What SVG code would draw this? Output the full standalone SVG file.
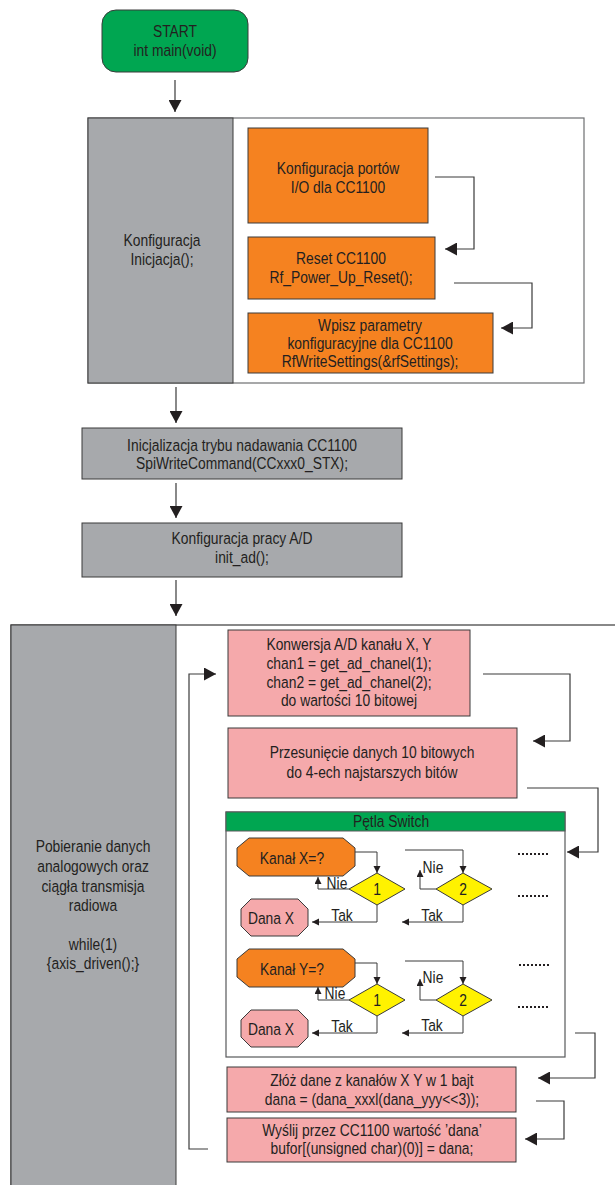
<svg xmlns="http://www.w3.org/2000/svg" width="615" height="1185" viewBox="0 0 615 1185">
<defs>
<marker id="big" markerUnits="userSpaceOnUse" markerWidth="13" markerHeight="13" refX="12" refY="6.5" orient="auto"><path d="M0,0 L12,6.5 L0,13 z" fill="#231f20"/></marker>
<marker id="sm" markerUnits="userSpaceOnUse" markerWidth="7" markerHeight="8" refX="7" refY="3.5" orient="auto"><path d="M0,0 L7,3.5 L0,7 z" fill="#231f20"/></marker>
<style>
text{font-family:"Liberation Sans",Arial,sans-serif;font-size:16.5px;fill:#231f20;text-anchor:middle}
.green{fill:#00a651;stroke:#3a3a3a;stroke-width:1}
.orange{fill:#f58220;stroke:#3a3a3a;stroke-width:1}
.pink{fill:#f5a9ab;stroke:#3a3a3a;stroke-width:1}
.gray{fill:#a7a9ac;stroke:#3a3a3a;stroke-width:1}
.white{fill:#ffffff;stroke:#6d6e71;stroke-width:1.2}
.yellow{fill:#fff200;stroke:#3a3a3a;stroke-width:1}
.ca{fill:none;stroke:#3a3a3a;stroke-width:1.2;marker-end:url(#big)}
.cs{fill:none;stroke:#3a3a3a;stroke-width:1;marker-end:url(#sm)}
.dots{stroke:#231f20;stroke-width:2;stroke-dasharray:2,2}
</style>
</defs>
<rect width="615" height="1185" fill="#ffffff"/>

<g id="start">
<rect class="green" x="102" y="10" width="146" height="62" rx="14"/>
<text transform="translate(175,37) scale(0.84,1)">START</text>
<text transform="translate(175,56) scale(0.84,1)">int main(void)</text>
</g>

<g id="config">
<rect class="white" x="88" y="118" width="496" height="265"/>
<rect class="gray" x="88" y="118" width="145" height="265"/>
<text transform="translate(162,246) scale(0.84,1)">Konfiguracja</text>
<text transform="translate(162,265) scale(0.84,1)">Inicjacja();</text>
</g>
<g id="cfg-ports">
<rect class="orange" x="248" y="128" width="180" height="95"/>
<text transform="translate(338,174) scale(0.84,1)">Konfiguracja portów</text>
<text transform="translate(338,193) scale(0.84,1)">I/O dla CC1100</text>
</g>
<g id="cfg-reset">
<rect class="orange" x="248" y="237" width="187" height="62"/>
<text transform="translate(341,264) scale(0.84,1)">Reset CC1100</text>
<text transform="translate(341,283) scale(0.84,1)">Rf_Power_Up_Reset();</text>
</g>
<g id="cfg-write">
<rect class="orange" x="248" y="313" width="245" height="60"/>
<text transform="translate(370,331) scale(0.84,1)">Wpisz parametry</text>
<text transform="translate(370,349) scale(0.84,1)">konfiguracyjne dla CC1100</text>
<text transform="translate(370,367) scale(0.84,1)">RfWriteSettings(&amp;rfSettings);</text>
</g>

<g id="stx">
<rect class="gray" x="82" y="428" width="320" height="51"/>
<text transform="translate(242,451) scale(0.84,1)">Inicjalizacja trybu nadawania CC1100</text>
<text transform="translate(242,469) scale(0.84,1)">SpiWriteCommand(CCxxx0_STX);</text>
</g>

<g id="adc">
<rect class="gray" x="82" y="523" width="320" height="54"/>
<text transform="translate(242,544) scale(0.84,1)">Konfiguracja pracy A/D</text>
<text transform="translate(242,563) scale(0.84,1)">init_ad();</text>
</g>

<g id="loop">
<rect class="white" x="11" y="625" width="620" height="580" style="stroke:#3a3a3a"/>
<rect class="gray" x="11" y="625" width="165" height="580"/>
<text transform="translate(93,852) scale(0.84,1)">Pobieranie danych</text>
<text transform="translate(93,872) scale(0.84,1)">analogowych oraz</text>
<text transform="translate(93,892) scale(0.84,1)">ciągła transmisja</text>
<text transform="translate(93,911) scale(0.84,1)">radiowa</text>
<text transform="translate(93,950) scale(0.84,1)">while(1)</text>
<text transform="translate(93,969) scale(0.84,1)">{axis_driven();}</text>
</g>

<g id="conv">
<rect class="pink" x="228" y="630" width="242" height="86"/>
<text transform="translate(349,650) scale(0.84,1)">Konwersja A/D kanału X, Y</text>
<text transform="translate(349,669) scale(0.84,1)">chan1 = get_ad_chanel(1);</text>
<text transform="translate(349,688) scale(0.84,1)">chan2 = get_ad_chanel(2);</text>
<text transform="translate(349,706) scale(0.84,1)">do wartości 10 bitowej</text>
</g>

<g id="shift">
<rect class="pink" x="228" y="728" width="289" height="70"/>
<text transform="translate(372,758) scale(0.84,1)">Przesunięcie danych 10 bitowych</text>
<text transform="translate(372,778) scale(0.84,1)">do 4-ech najstarszych bitów</text>
</g>

<g id="switch">
<rect class="white" x="226" y="812" width="339" height="245" style="stroke:#58595b"/>
<rect class="green" x="226" y="812" width="339" height="19" style="stroke:#58595b"/>
<text transform="translate(391,827) scale(0.84,1)">Pętla Switch</text>
</g>

<g id="kanal-x">
<polygon class="orange" points="249,838 343,838 355,848 355,866 343,876 249,876 237,866 237,848"/>
<text transform="translate(292,864) scale(0.84,1)">Kanał X=?</text>
</g>
<g id="d1x"><polygon class="yellow" points="377,873 405,889 377,905 349,889"/><text transform="translate(377,895) scale(0.84,1)">1</text></g>
<g id="d2x"><polygon class="yellow" points="463,873 492,889 463,905 436,889"/><text transform="translate(463,895) scale(0.84,1)">2</text></g>
<g id="dana-x1">
<polygon class="pink" points="251,899 298,899 308,909 308,926 298,936 251,936 241,926 241,909"/>
<text transform="translate(271,924) scale(0.84,1)">Dana X</text>
</g>

<g id="kanal-y">
<polygon class="orange" points="249,949 343,949 355,959 355,977 343,987 249,987 237,977 237,959"/>
<text transform="translate(292,975) scale(0.84,1)">Kanał Y=?</text>
</g>
<g id="d1y"><polygon class="yellow" points="377,984 405,1000 377,1016 349,1000"/><text transform="translate(377,1006) scale(0.84,1)">1</text></g>
<g id="d2y"><polygon class="yellow" points="463,984 492,1000 463,1016 436,1000"/><text transform="translate(463,1006) scale(0.84,1)">2</text></g>
<g id="dana-x2">
<polygon class="pink" points="251,1010 298,1010 308,1020 308,1037 298,1047 251,1047 241,1037 241,1020"/>
<text transform="translate(271,1035) scale(0.84,1)">Dana X</text>
</g>

<g id="combine">
<rect class="pink" x="227" y="1067" width="289" height="45"/>
<text transform="translate(372,1086) scale(0.84,1)">Złóż dane z kanałów X Y w 1 bajt</text>
<text transform="translate(372,1105) scale(0.84,1)">dana = (dana_xxxl(dana_yyy&lt;&lt;3));</text>
</g>

<g id="send">
<rect class="pink" x="227" y="1118" width="289" height="44"/>
<text transform="translate(372,1136) scale(0.84,1)">Wyślij przez CC1100 wartość ’dana’</text>
<text transform="translate(372,1154) scale(0.84,1)">bufor[(unsigned char)(0)] = dana;</text>
</g>

<g id="connectors">
<line class="ca" x1="175" y1="80" x2="175" y2="112"/>
<line class="ca" x1="176" y1="387" x2="176" y2="423"/>
<line class="ca" x1="176" y1="483" x2="176" y2="518"/>
<line class="ca" x1="176" y1="580" x2="176" y2="616"/>
<polyline class="ca" points="435,177 474,177 474,249 445,249"/>
<polyline class="ca" points="454,283 532,283 532,328 501,328"/>
<polyline class="ca" points="483,674 570,674 570,741 533,741"/>
<polyline class="ca" points="527,788 598,788 598,852 567,852"/>
<polyline class="ca" points="575,1033 595,1033 595,1078 538,1078"/>
<polyline class="ca" points="536,1101 564,1101 564,1139 525,1139"/>
<polyline class="ca" points="208,1149 189,1149 189,674 216,674"/>

<polyline class="cs" points="355,852 377,852 377,873"/>
<polyline class="cs" points="349,889 318,889 318,877"/>
<polyline class="cs" points="377,905 377,922 312,922"/>
<polyline class="cs" points="405,850 463,850 463,873"/>
<polyline class="cs" points="436,889 420,889 420,870"/>
<polyline class="cs" points="463,905 463,922 402,922"/>

<polyline class="cs" points="355,963 377,963 377,984"/>
<polyline class="cs" points="349,1000 318,1000 318,987"/>
<polyline class="cs" points="377,1016 377,1033 312,1033"/>
<polyline class="cs" points="405,961 463,961 463,984"/>
<polyline class="cs" points="436,1000 420,1000 420,979"/>
<polyline class="cs" points="463,1016 463,1033 402,1033"/>

<text transform="translate(337,889) scale(0.84,1)">Nie</text>
<text transform="translate(342,921) scale(0.84,1)">Tak</text>
<text transform="translate(433,873) scale(0.84,1)">Nie</text>
<text transform="translate(432,921) scale(0.84,1)">Tak</text>
<text transform="translate(335,999) scale(0.84,1)">Nie</text>
<text transform="translate(342,1032) scale(0.84,1)">Tak</text>
<text transform="translate(433,983) scale(0.84,1)">Nie</text>
<text transform="translate(432,1031) scale(0.84,1)">Tak</text>

<line class="dots" x1="518" y1="854" x2="549" y2="854"/>
<line class="dots" x1="518" y1="896" x2="549" y2="896"/>
<line class="dots" x1="519" y1="965" x2="550" y2="965"/>
<line class="dots" x1="518" y1="1007" x2="549" y2="1007"/>
</g>
</svg>
